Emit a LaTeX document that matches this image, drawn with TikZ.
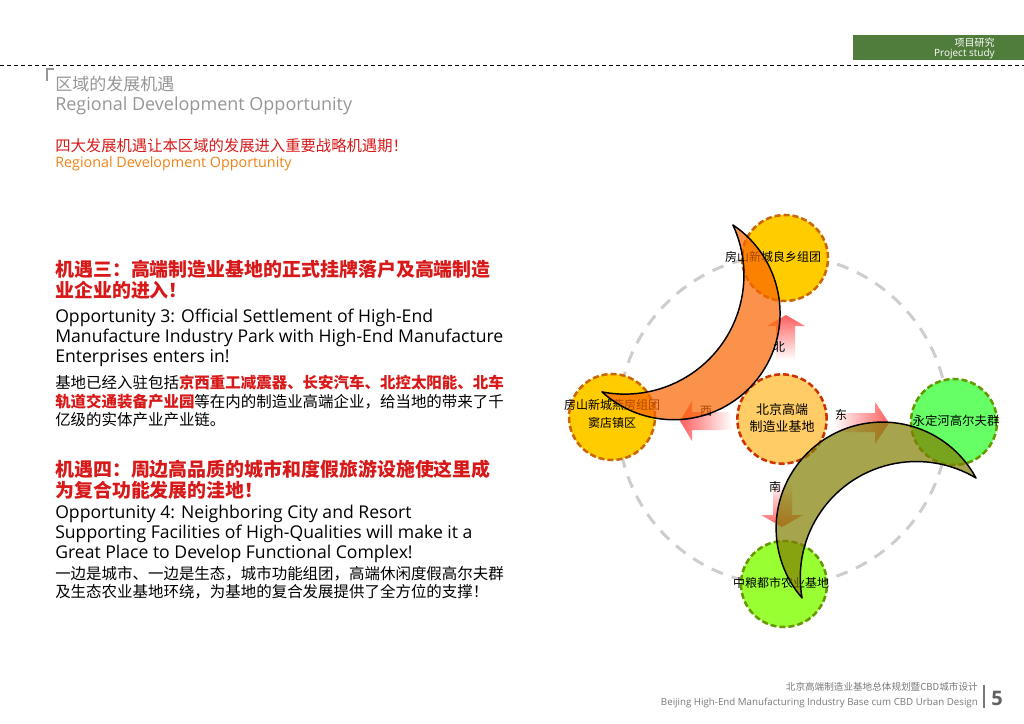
\documentclass[tikz,border=0pt]{standalone}
\usepackage{fontspec}
\setmainfont{Open Sans}
\newfontfamily\cjk{Noto Sans CJK SC}
\newcommand\fsz[2]{\fontsize{#1}{#2}\selectfont}
\definecolor{hdgreen}{RGB}{80,125,60}
\definecolor{txtgrey}{RGB}{150,150,150}
\definecolor{footgrey}{RGB}{120,120,120}
\definecolor{oppred}{RGB}{215,25,25}
\definecolor{opporange}{RGB}{240,130,20}
\definecolor{gold}{RGB}{255,204,0}
\definecolor{goldrim}{RGB}{204,102,0}
\definecolor{corefill}{RGB}{255,204,102}
\definecolor{corerim}{RGB}{204,51,0}
\definecolor{lime}{RGB}{102,255,102}
\definecolor{grass}{RGB}{153,255,51}
\definecolor{greenrim}{RGB}{102,153,0}
\definecolor{ringgrey}{RGB}{205,205,205}
\definecolor{arrowred}{RGB}{255,95,95}
\definecolor{moonorange}{RGB}{248,100,0}
\definecolor{moonolive}{RGB}{128,125,0}
\tikzset{
  txt/.style={anchor=base west, inner sep=0},
  zone/.style={circle, minimum size=64.5pt, inner sep=0, line width=1.9pt, dash pattern=on 4.5pt off 2.25pt},
  ztext/.style={font=\cjk\fsz{9}{13.5}, align=center, inner sep=0},
  dirtext/.style={font=\cjk\fsz{9}{11}, inner sep=0},
  moon/.style={fill=#1, fill opacity=0.7, draw=black, line width=1.1pt, line join=round},
}
\begin{document}
\begin{tikzpicture}[x=0.75pt, y=0.75pt, line cap=butt]
  \useasboundingbox (0,0) rectangle (1024,-724);
  % header
  \fill[hdgreen] (853,-35) rectangle (1024,-60);
  \node[anchor=base east, inner sep=0, font=\cjk\fsz{7.5}{9}, text=white] (hdcn) at (995,-47) {项目研究};
  \node[anchor=base east, inner sep=0, font=\fsz{7.5}{9}, text=white] (hden) at (995,-57) {Project study};
  \draw[line width=0.6pt, dash pattern=on 3pt off 2.25pt] (0,-65) -- (1024,-65);
  \draw[txtgrey, line width=1.5pt] (47,-81) -- (47,-69) -- (54,-69);
  % titles
  \node[txt, font=\cjk\fsz{12.75}{15}, text=txtgrey] (titlecn) at (55,-90) {区域的发展机遇};
  \node[txt, font=\fsz{13.5}{16}, text=txtgrey] (titleen) at (55,-110) {Regional Development Opportunity};
  \node[txt, font=\cjk\fsz{11.5}{14}, text=oppred] (subcn) at (55,-151) {四大发展机遇让本区域的发展进入重要战略机遇期！};
  \node[txt, font=\fsz{10.75}{13}, text=opporange] (suben) at (55,-167) {Regional Development Opportunity};
  % opportunity 3
  \node[txt, font=\cjk\bfseries\fsz{14.2}{16}, text=oppred] (h3a) at (55,-276) {机遇三：高端制造业基地的正式挂牌落户及高端制造};
  \node[txt, font=\cjk\bfseries\fsz{14.2}{16}, text=oppred] (h3b) at (55,-297) {业企业的进入！};
  \node[txt, font=\fsz{13.2}{15}] (o3a) at (55,-322) {Opportunity 3: Official Settlement of High-End};
  \node[txt, font=\fsz{13.2}{15}] (o3b) at (55,-342) {Manufacture Industry Park with High-End Manufacture};
  \node[txt, font=\fsz{13.2}{15}] (o3c) at (55,-362) {Enterprises enters in!};
  \node[txt, font=\cjk\fsz{11.6}{14}] (c3a) at (55,-388) {基地已经入驻包括\textcolor{oppred}{\bfseries 京西重工减震器、长安汽车、北控太阳能、北车}};
  \node[txt, font=\cjk\fsz{11.6}{14}] (c3b) at (55,-407) {\textcolor{oppred}{\bfseries 轨道交通装备产业园}等在内的制造业高端企业，给当地的带来了千};
  \node[txt, font=\cjk\fsz{11.6}{14}] (c3c) at (55,-425) {亿级的实体产业产业链。};
  % opportunity 4
  \node[txt, font=\cjk\bfseries\fsz{14.2}{16}, text=oppred] (h4a) at (55,-476) {机遇四：周边高品质的城市和度假旅游设施使这里成};
  \node[txt, font=\cjk\bfseries\fsz{14.2}{16}, text=oppred] (h4b) at (55,-497) {为复合功能发展的洼地！};
  \node[txt, font=\fsz{13.2}{15}] (o4a) at (55,-518) {Opportunity 4: Neighboring City and Resort};
  \node[txt, font=\fsz{13.2}{15}] (o4b) at (55,-538) {Supporting Facilities of High-Qualities will make it a};
  \node[txt, font=\fsz{13.2}{15}] (o4c) at (55,-558) {Great Place to Develop Functional Complex!};
  \node[txt, font=\cjk\fsz{11.6}{14}] (c4a) at (55,-579) {一边是城市、一边是生态，城市功能组团，高端休闲度假高尔夫群};
  \node[txt, font=\cjk\fsz{11.6}{14}] (c4b) at (55,-597) {及生态农业基地环绕，为基地的复合发展提供了全方位的支撑！};
  % diagram
  \draw[ringgrey, line width=2.25pt, dash pattern=on 9pt off 7pt] (783,-420) circle (165);
  \shade[top color=arrowred, bottom color=white] (776,-360) -- (776,-326) -- (767,-326) -- (786,-315) -- (805,-326) -- (795,-326) -- (795,-360) -- cycle;
  \shade[left color=arrowred, right color=white] (732,-412) -- (692,-412) -- (692,-401) -- (680,-421) -- (692,-441) -- (692,-430) -- (732,-430) -- cycle;
  \shade[left color=white, right color=arrowred] (833,-413) -- (875,-413) -- (875,-402) -- (889,-423) -- (875,-444) -- (875,-432) -- (833,-432) -- cycle;
  \shade[top color=white, bottom color=arrowred] (773,-483) -- (773,-515) -- (761,-515) -- (782,-527) -- (803,-515) -- (792,-515) -- (792,-483) -- cycle;
  \node[zone, fill=gold, draw=goldrim] (liangxiang) at (785,-258) {};
  \node[zone, fill=gold, draw=goldrim] (doudian) at (612,-417) {};
  \node[zone, fill=corefill, draw=corerim, minimum size=67pt] (core) at (782,-419) {};
  \node[zone, fill=lime, draw=greenrim] (golf) at (954,-422) {};
  \node[zone, fill=grass, draw=greenrim] (farm) at (784,-584) {};
  \node[ztext] (liangxiang-t) at (773,-257) {房山新城良乡组团};
  \node[ztext] (doudian-t) at (612,-414) {房山新城燕房组团\\窦店镇区};
  \node[ztext, font=\cjk\fsz{9.75}{12.75}] (core-t) at (782,-418) {北京高端\\制造业基地};
  \node[ztext, font=\cjk\fsz{9.3}{12}] (golf-t) at (956,-421) {永定河高尔夫群};
  \node[ztext] (farm-t) at (781,-583) {中粮都市农业基地};
  \node[dirtext] (bei) at (779,-347) {北};
  \node[dirtext] (xi) at (706,-411) {西};
  \node[dirtext] (dong) at (841,-415) {东};
  \node[dirtext] (nan) at (775,-487) {南};
  \filldraw[moon=moonorange] (733,-225) arc[start angle=56.1, end angle=-132.4, radius=106.4] arc[start angle=-101.1, end angle=24.9, radius=119.1] -- cycle;
  \filldraw[moon=moonolive] (976,-478) arc[start angle=28.3, end angle=220.9, radius=106.3] arc[start angle=190.1, end angle=59.1, radius=116.1] -- cycle;
  % footer
  \node[anchor=base east, inner sep=0, font=\cjk\fsz{7.2}{9}, text=footgrey] (footcn) at (978,-690) {北京高端制造业基地总体规划暨CBD城市设计};
  \node[anchor=base east, inner sep=0, font=\fsz{7.3}{9}, text=footgrey] (footen) at (978,-705) {Beijing High-End Manufacturing Industry Base cum CBD Urban Design};
  \draw[footgrey, line width=1pt] (984,-685) -- (984,-708);
  \node[font=\bfseries\fsz{15}{16}, text=footgrey!80!black] (page) at (997,-698) {5};
\end{tikzpicture}
\end{document}
